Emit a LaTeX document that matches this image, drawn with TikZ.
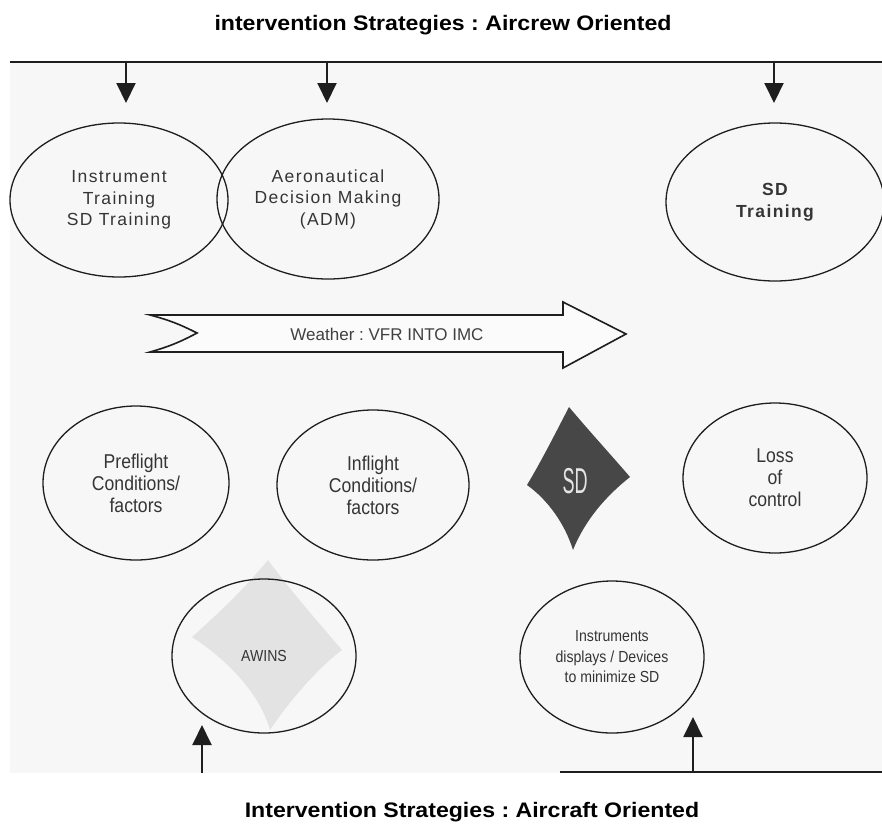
\documentclass[tikz,border=0pt]{standalone}
\usepackage{fontspec}
\setmainfont{Liberation Sans}
\newfontfamily\titlefont[FakeStretch=1.1]{Liberation Sans}
\newfontfamily\spacedfont[LetterSpace=8]{Liberation Sans}
\newfontfamily\narrowfont[FakeStretch=0.88]{Liberation Sans}
\newfontfamily\sdfont[FakeStretch=0.5]{Liberation Sans}
\usetikzlibrary{shapes.geometric,arrows.meta}
\definecolor{ink}{HTML}{1E1E1E}
\frenchspacing
\tikzset{
  ell/.style={draw=ink, line width=1.3pt, ellipse, inner sep=0pt, align=center, text=ink!90},
  arr/.style={draw=ink, line width=2pt, -{Triangle[length=20pt,width=19pt]}},
  bus/.style={draw=ink, line width=2pt},
  ttl/.style={font=\titlefont\bfseries\fontsize{21}{25}\selectfont, anchor=base},
  topfont/.style={font=\spacedfont\fontsize{17.5}{21.5}\selectfont},
  midfont/.style={font=\narrowfont\fontsize{20}{22}\selectfont},
  lowfont/.style={font=\narrowfont\fontsize{16}{20.5}\selectfont}
}
\begin{document}
\frenchspacing
\begin{tikzpicture}[x=1pt,y=-1pt]
\useasboundingbox (0,0) rectangle (882,825);
% scanned page area
\fill[gray!6] (10,62) rectangle (882,773);
% faint show-through diamond
\fill[gray!22] (268,560) .. controls (290,590) and (318,622) .. (342,650)
  .. controls (318,668) and (290,700) .. (270,730)
  .. controls (262,700) and (235,665) .. (192,637)
  .. controls (220,612) and (245,588) .. (268,560) -- cycle;

% titles
\node[ttl] (ttop) at (443,30) {intervention Strategies : Aircrew Oriented};
\node[ttl] (tbot) at (472,817) {Intervention Strategies : Aircraft Oriented};

% top row
\node[ell, topfont, minimum width=218pt, minimum height=154pt] (e1) at (119,200) {Instrument\\Training\\SD Training};
\node[ell, topfont, minimum width=222pt, minimum height=160pt] (e2) at (328,199) {Aeronautical\\Decision Making\\(ADM)};
\node[ell, topfont, font=\spacedfont\bfseries\fontsize{17.5}{22.5}\selectfont, minimum width=218pt, minimum height=158pt] (e3) at (775,202) {SD\\Training};

% bus and arrows (aircrew)
\coordinate (tl) at (10,62);
\coordinate (tr) at (882,62);
\coordinate (t1) at (126,62);
\coordinate (t2) at (327,62);
\coordinate (t3) at (774,62);
\draw[bus] (tl) -- (tr);
\draw[arr] (t1) -- ([yshift=-41pt]t1);
\draw[arr] (t2) -- ([yshift=-41pt]t2);
\draw[arr] (t3) -- ([yshift=-41pt]t3);

% big arrow
\draw[draw=ink, line width=1.6pt, fill=white, fill opacity=0.6]
  (150,315) -- (563,315) -- (563,302) -- (626,334) -- (563,368) -- (563,352) -- (150,352)
  to[bend right=6] (197,333) to[bend right=6] (150,315) -- cycle;
\node[font=\fontsize{17}{20}\selectfont, text=ink!85] (wx) at (387,334) {Weather : VFR INTO IMC};

% middle row
\node[ell, midfont, minimum width=186pt, minimum height=154pt] (e4) at (136,483) {Preflight\\Conditions/\\factors};
\node[ell, midfont, minimum width=192pt, minimum height=150pt] (e5) at (373,485) {Inflight\\Conditions/\\factors};
\node[ell, midfont, minimum width=184pt, minimum height=150pt] (e6) at (775,478) {Loss\\of\\control};

% SD shape
\fill[black!72] (569,407) .. controls (590,432) and (612,456) .. (630,477)
  .. controls (606,496) and (585,520) .. (573,550)
  .. controls (565,524) and (548,500) .. (527,485)
  .. controls (542,460) and (556,432) .. (569,407) -- cycle;
\node[font=\sdfont\fontsize{36}{36}\selectfont, text=white!90!black] (sd) at (575,481) {SD};

% bottom row
\node[ell, font=\narrowfont\fontsize{16}{20}\selectfont, minimum width=184pt, minimum height=154pt] (e7) at (264,656) {AWINS};
\node[ell, lowfont, minimum width=184pt, minimum height=152pt] (e8) at (612,657) {Instruments\\displays / Devices\\to minimize SD};

% bottom bus and arrows (aircraft)
\coordinate (b1) at (202,773);
\coordinate (b2) at (693,773);
\coordinate (bl) at (560,772);
\coordinate (br) at (882,772);
\draw[bus] (bl) -- (br);
\draw[arr] (b1) -- ([yshift=48pt]b1);
\draw[arr] (b2) -- ([yshift=56pt]b2);
\end{tikzpicture}
\end{document}
